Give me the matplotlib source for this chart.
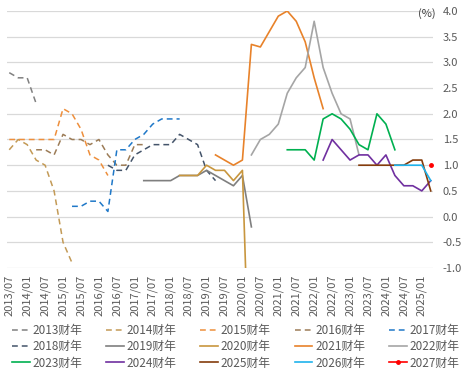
import pandas as pd
import matplotlib
matplotlib.use('Agg')
import matplotlib.pyplot as plt

plt.rcParams['font.family'] = ['Noto Sans CJK SC', 'DejaVu Sans']

# Fechas de cada previsión (trimestral) y etiquetas del eje
fechas = pd.date_range('2013-07-01', '2025-04-01', freq='QS-JAN').strftime('%Y/%m').tolist()

# Previsiones de cada año fiscal: fecha de la primera previsión y valores (%)
ejercicios = ['2013财年', '2014财年', '2015财年', '2016财年', '2017财年',
              '2018财年', '2019财年', '2020财年', '2021财年', '2022财年',
              '2023财年', '2024财年', '2025财年', '2026财年', '2027财年']
inicio = ['2013/07', '2013/07', '2013/07', '2014/04', '2015/04',
          '2016/04', '2017/04', '2018/04', '2019/04', '2020/04',
          '2021/04', '2022/04', '2023/04', '2024/04', '2025/04']

fy2013 = [2.8, 2.7, 2.7, 2.2]
fy2014 = [1.3, 1.5, 1.4, 1.1, 1.0, 0.5, -0.5, -0.9]
fy2015 = [1.5, 1.5, 1.5, 1.5, 1.5, 1.5, 2.1, 2.0, 1.7, 1.2, 1.1, 0.8]
fy2016 = [1.3, 1.3, 1.2, 1.6, 1.5, 1.5, 1.4, 1.5, 1.2, 1.0, 1.0, 1.4, 1.4]
fy2017 = [0.2, 0.2, 0.3, 0.3, 0.1, 1.3, 1.3, 1.5, 1.6, 1.8, 1.9, 1.9, 1.9]
fy2018 = [1.0, 0.9, 0.9, 1.2, 1.3, 1.4, 1.4, 1.4, 1.6, 1.5, 1.4, 0.9, 0.7]
fy2019 = [0.7, 0.7, 0.7, 0.7, 0.8, 0.8, 0.8, 0.9, 0.8, 0.7, 0.6, 0.8, -0.2]
fy2020 = [0.8, 0.8, 0.8, 1.0, 0.9, 0.9, 0.7, 0.9, -4.5]
fy2021 = [1.2, 1.1, 1.0, 1.1, 3.35, 3.3, 3.6, 3.9, 4.0, 3.8, 3.4, 2.7, 2.1]
fy2022 = [1.2, 1.5, 1.6, 1.8, 2.4, 2.7, 2.9, 3.8, 2.9, 2.4, 2.0, 1.9, 1.2]
fy2023 = [1.3, 1.3, 1.3, 1.1, 1.9, 2.0, 1.9, 1.7, 1.4, 1.3, 2.0, 1.8, 1.3]
fy2024 = [1.1, 1.5, 1.3, 1.1, 1.2, 1.2, 1.0, 1.2, 0.8, 0.6, 0.6, 0.5, 0.7]
fy2025 = [1.0, 1.0, 1.0, 1.0, 1.0, 1.0, 1.1, 1.1, 0.5]
fy2026 = [1.0, 1.0, 1.0, 1.0, 0.7]
fy2027 = [1.0]

valores = [fy2013, fy2014, fy2015, fy2016, fy2017, fy2018, fy2019, fy2020,
           fy2021, fy2022, fy2023, fy2024, fy2025, fy2026, fy2027]

colores = ['#808080', '#C39A56', '#EE8F3C', '#9C7C57', '#1F78C8',
           '#44546A', '#7F7F7F', '#C8963E', '#E8822A', '#A5A5A5',
           '#00B050', '#7030A0', '#843C0C', '#1FB3EC', '#FF0000']

fig = plt.figure(figsize=(4.7, 3.76), dpi=100)
ax = fig.add_axes([7/470, 1 - 268/376, 426/470, 257/376])

lineas = []
for k, (nombre, ini, vals, col) in enumerate(zip(ejercicios, inicio, valores, colores)):
    i0 = fechas.index(ini)
    xs = list(range(i0, i0 + len(vals)))
    if k < 6:
        l, = ax.plot(xs, vals, color=col, lw=1.1, dashes=(3.8, 2.6), label=nombre)
    elif nombre == '2027财年':
        l, = ax.plot(xs, vals, color=col, lw=1.2, marker='o', ms=2.5, label=nombre)
    else:
        l, = ax.plot(xs, vals, color=col, lw=1.2, label=nombre)
    lineas.append(l)

ax.set_xlim(-0.25, len(fechas) - 0.75)
ax.set_ylim(-1.0, 4.0)
yt = [-1.0, -0.5, 0.0, 0.5, 1.0, 1.5, 2.0, 2.5, 3.0, 3.5, 4.0]
ax.set_yticks(yt)
ax.set_yticklabels(['%.1f' % v for v in yt])
ax.yaxis.tick_right()
ax.grid(axis='y', color='#D9D9D9', lw=0.9)
ax.set_axisbelow(True)

pos = [i for i, f in enumerate(fechas) if f[-2:] in ('01', '07')]
ax.set_xticks(pos)
ax.set_xticklabels([fechas[i] for i in pos], rotation=90)
ax.tick_params(axis='both', length=0, labelsize=8, colors='#595959')
ax.tick_params(axis='y', pad=7)
ax.tick_params(axis='x', pad=5)
for s in ax.spines.values():
    s.set_visible(False)

fig.text(427/470, 1 - 14/376, '(%)', ha='center', va='center', fontsize=8, color='#404040')

# Leyenda por filas
orden = [0, 5, 10, 1, 6, 11, 2, 7, 12, 3, 8, 13, 4, 9, 14]
fig.legend([lineas[i] for i in orden], [ejercicios[i] for i in orden],
           ncol=5, loc='upper left', bbox_to_anchor=(12/470, 1 - 324/376),
           frameon=False, fontsize=8.5, labelcolor='#595959',
           handlelength=1.5, handletextpad=0.25, columnspacing=2.0,
           labelspacing=0.28, borderpad=0, borderaxespad=0)

fig.savefig('out.png', dpi=100)
